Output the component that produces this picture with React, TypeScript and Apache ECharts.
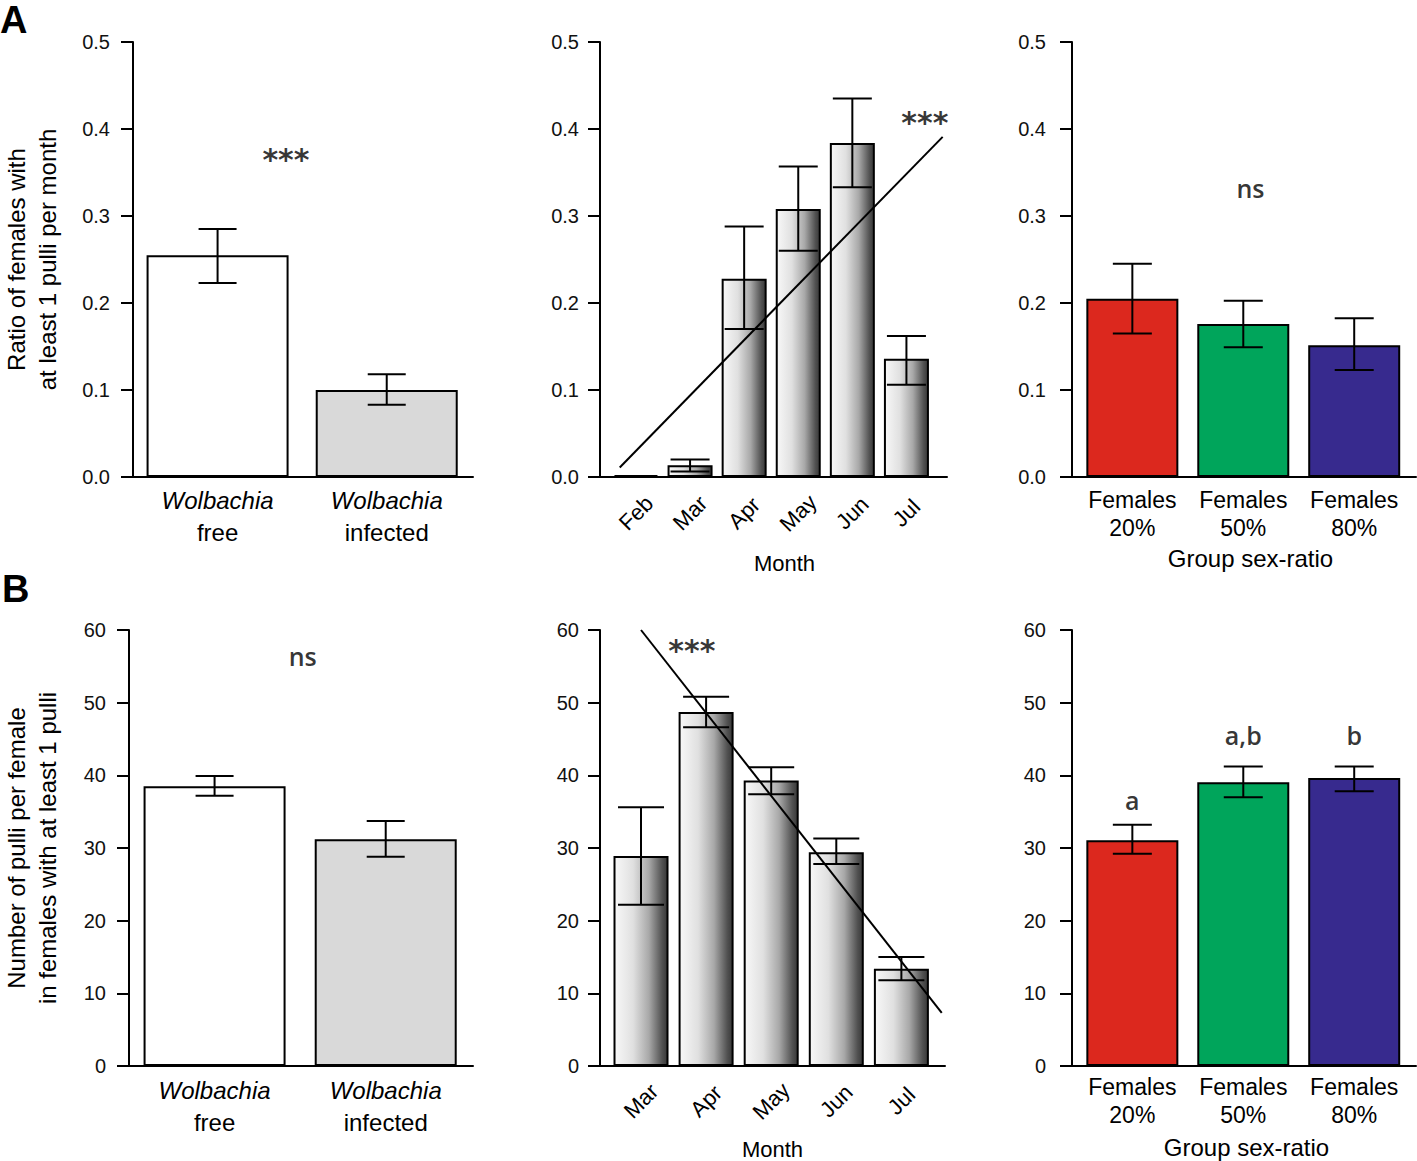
import React, { useEffect, useRef } from "react";
import * as echarts from "echarts";

// ---------- data ----------
const infectionGenus = "Wolbachia";
const infectionStatus = ["free", "infected"];
const monthsA = ["Feb", "Mar", "Apr", "May", "Jun", "Jul"];
const monthsB = ["Mar", "Apr", "May", "Jun", "Jul"];
const sexRatioGroups = ["20%", "50%", "80%"];

const ratioTicks = [0, 0.1, 0.2, 0.3, 0.4, 0.5];
const pulliTicks = [0, 10, 20, 30, 40, 50, 60];

const ratioByInfection = [0.255, 0.1];
const ratioByInfectionErr = [[0.223, 0.285], [0.083, 0.118]];
const ratioByMonth = [0, 0.0136, 0.228, 0.308, 0.384, 0.136];
const ratioByMonthErr = [null, [0.0064, 0.02], [0.17, 0.288], [0.26, 0.357], [0.333, 0.435], [0.106, 0.162]];
const ratioTrend = [[-0.3, 0.011], [5.67, 0.391]];
const ratioBySexRatio = [0.205, 0.176, 0.1515];
const ratioBySexRatioErr = [[0.165, 0.245], [0.149, 0.2026], [0.123, 0.1826]];

const pulliByInfection = [38.5, 31.2];
const pulliByInfectionErr = [[37.2, 39.9], [28.8, 33.7]];
const pulliByMonth = [28.9, 48.7, 39.3, 29.4, 13.4];
const pulliByMonthErr = [[22.2, 35.6], [46.6, 50.8], [37.4, 41.1], [27.8, 31.3], [11.8, 15.0]];
const pulliTrend = [[0, 60], [4.62, 7.3]];
const pulliBySexRatio = [31.06, 39.06, 39.65];
const pulliBySexRatioErr = [[29.2, 33.2], [37.0, 41.2], [37.8, 41.2]];

const notesA1 = [{ x: 0.404, y: 0.3655, text: "***" }];
const notesA2 = [{ x: 5.34, y: 0.407, text: "***" }];
const notesA3 = [{ x: 1.065, y: 0.332, text: "ns" }];
const notesB1 = [{ x: 0.515, y: 56.4, text: "ns" }];
const notesB2 = [{ x: 0.78, y: 57.2, text: "***" }];
const notesB3 = [
  { x: 0, y: 36.6, text: "a" },
  { x: 1, y: 45.5, text: "a,b" },
  { x: 2, y: 45.5, text: "b" },
];

// ---------- styles ----------
const FONT = "Liberation Sans";
const infectionColors = ["#ffffff", "#d9d9d9"];
const sexRatioColors = ["#dc281e", "#00a55b", "#372a8e"];
const monthGradient = {
  type: "linear",
  x: 0,
  y: 0,
  x2: 1,
  y2: 0,
  colorStops: [
    { offset: 0, color: "#f8f8f8" },
    { offset: 0.35, color: "#e0e0e0" },
    { offset: 0.65, color: "#a8a8a8" },
    { offset: 0.9, color: "#515151" },
    { offset: 1, color: "#383838" },
  ],
};

type Note = { x: number; y: number; text: string };
type Panel = {
  grid: { left: number; top: number; width: number; height: number };
  xMin: number;
  xMax: number;
  ticks: number[];
  digits: number;
  tickMargin: number;
  labelFormatter: (k: number) => string;
  labelStyle: any;
  values: number[];
  errs: (number[] | null)[];
  colors: any[];
  barWidth: number;
  cap: number;
  trend?: number[][];
  notes: Note[];
  xName?: string;
  xNameGap?: number;
  xNameStyle?: any;
  yName?: string;
  yNameGap?: number;
};

const infectionLabelStyle = (margin: number) => ({
  margin,
  color: "#000",
  rich: {
    i: { fontFamily: FONT, fontSize: 24, fontStyle: "italic", lineHeight: 32, color: "#000" },
    n: { fontFamily: FONT, fontSize: 24, lineHeight: 32, color: "#000" },
  },
});
const groupLabelStyle = (margin: number) => ({
  margin,
  fontFamily: FONT,
  fontSize: 23,
  lineHeight: 28,
  color: "#000",
});
const monthLabelStyle = (margin: number) => ({
  margin,
  rotate: 45,
  align: "center",
  verticalAlign: "middle",
  fontFamily: FONT,
  fontSize: 22,
  color: "#000",
});

const panels: Panel[] = [
  {
    grid: { left: 128, top: 42, width: 345, height: 435 },
    xMin: -0.5,
    xMax: 1.51,
    ticks: ratioTicks,
    digits: 1,
    tickMargin: 23,
    labelFormatter: (k) => `{i|${infectionGenus}}\n{n|${infectionStatus[k]}}`,
    labelStyle: infectionLabelStyle(7),
    values: ratioByInfection,
    errs: ratioByInfectionErr,
    colors: infectionColors,
    barWidth: 142,
    cap: 19,
    notes: notesA1,
    yName: "Ratio of females with\nat least 1 pulli per month",
    yNameGap: 70,
  },
  {
    grid: { left: 600, top: 42, width: 347, height: 435 },
    xMin: -0.665,
    xMax: 5.75,
    ticks: ratioTicks,
    digits: 1,
    tickMargin: 21,
    labelFormatter: (k) => monthsA[k],
    labelStyle: monthLabelStyle(36),
    values: ratioByMonth,
    errs: ratioByMonthErr,
    colors: monthsA.map(() => monthGradient),
    barWidth: 45,
    cap: 19.5,
    trend: ratioTrend,
    notes: notesA2,
    xName: "Month",
    xNameGap: 75,
    xNameStyle: { fontFamily: FONT, fontSize: 22, color: "#000", padding: [0, 0, 0, 22] },
  },
  {
    grid: { left: 1072, top: 42, width: 344, height: 435 },
    xMin: -0.544,
    xMax: 2.557,
    ticks: ratioTicks,
    digits: 1,
    tickMargin: 26,
    labelFormatter: (k) => `Females\n${sexRatioGroups[k]}`,
    labelStyle: groupLabelStyle(9),
    values: ratioBySexRatio,
    errs: ratioBySexRatioErr,
    colors: sexRatioColors,
    barWidth: 92,
    cap: 19.5,
    notes: notesA3,
    xName: "Group sex-ratio",
    xNameGap: 69,
    xNameStyle: { fontFamily: FONT, fontSize: 24, color: "#000", padding: [0, 0, 0, 13] },
  },
  {
    grid: { left: 128, top: 630, width: 345, height: 436 },
    xMin: -0.5,
    xMax: 1.51,
    ticks: pulliTicks,
    digits: 0,
    tickMargin: 23,
    labelFormatter: (k) => `{i|${infectionGenus}}\n{n|${infectionStatus[k]}}`,
    labelStyle: infectionLabelStyle(8),
    values: pulliByInfection,
    errs: pulliByInfectionErr,
    colors: infectionColors,
    barWidth: 142,
    cap: 19,
    notes: notesB1,
    yName: "Number of pulli per female\nin females with at least 1 pulli",
    yNameGap: 66,
  },
  {
    grid: { left: 600, top: 630, width: 345, height: 436 },
    xMin: -0.63,
    xMax: 4.67,
    ticks: pulliTicks,
    digits: 0,
    tickMargin: 21,
    labelFormatter: (k) => monthsB[k],
    labelStyle: monthLabelStyle(35),
    values: pulliByMonth,
    errs: pulliByMonthErr,
    colors: monthsB.map(() => monthGradient),
    barWidth: 55,
    cap: 23,
    trend: pulliTrend,
    notes: notesB2,
    xName: "Month",
    xNameGap: 72,
    xNameStyle: { fontFamily: FONT, fontSize: 22, color: "#000" },
  },
  {
    grid: { left: 1072, top: 630, width: 344, height: 436 },
    xMin: -0.544,
    xMax: 2.557,
    ticks: pulliTicks,
    digits: 0,
    tickMargin: 26,
    labelFormatter: (k) => `Females\n${sexRatioGroups[k]}`,
    labelStyle: groupLabelStyle(7),
    values: pulliBySexRatio,
    errs: pulliBySexRatioErr,
    colors: sexRatioColors,
    barWidth: 92,
    cap: 19.5,
    notes: notesB3,
    xName: "Group sex-ratio",
    xNameGap: 69,
    xNameStyle: { fontFamily: FONT, fontSize: 24, color: "#000", padding: [0, 0, 0, 5] },
  },
];

function noteLabel(text: string) {
  if (text === "***") {
    return { fontFamily: "DejaVu Sans", fontWeight: "bold", fontSize: 30, color: "#000" };
  }
  return { fontFamily: "Open Sans", fontWeight: 600, fontSize: 25, color: "#000" };
}

function buildOption() {
  const grid: any[] = [];
  const xAxis: any[] = [];
  const yAxis: any[] = [];
  const series: any[] = [];

  panels.forEach((p, i) => {
    grid.push({ ...p.grid, containLabel: false });
    const positions = p.values.map((_, k) => k);
    xAxis.push({
      gridIndex: i,
      type: "value",
      min: p.xMin,
      max: p.xMax,
      axisLine: { show: true, onZero: false, lineStyle: { color: "#000", width: 2 } },
      axisTick: { show: false },
      splitLine: { show: false },
      axisLabel: {
        show: true,
        customValues: positions,
        formatter: (v: number) => p.labelFormatter(Math.round(v)),
        ...p.labelStyle,
      },
      name: p.xName,
      nameLocation: "middle",
      nameGap: p.xNameGap,
      nameTextStyle: p.xNameStyle,
    });
    yAxis.push({
      gridIndex: i,
      type: "value",
      min: p.ticks[0],
      max: p.ticks[p.ticks.length - 1],
      interval: p.ticks[1] - p.ticks[0],
      axisLine: { show: true, onZero: false, lineStyle: { color: "#000", width: 2 } },
      axisTick: { show: true, length: 12, lineStyle: { color: "#000", width: 2 } },
      splitLine: { show: false },
      axisLabel: {
        margin: p.tickMargin,
        fontFamily: FONT,
        fontSize: 20,
        color: "#111",
        formatter: (v: number) => v.toFixed(p.digits),
      },
      name: p.yName,
      nameLocation: "middle",
      nameRotate: 90,
      nameGap: p.yNameGap,
      nameTextStyle: { fontFamily: FONT, fontSize: 24, lineHeight: 31, color: "#000" },
    });

    series.push({
      type: "bar",
      xAxisIndex: i,
      yAxisIndex: i,
      barWidth: p.barWidth,
      barMinHeight: 2,
      z: 2,
      itemStyle: { borderColor: "#000", borderWidth: 2 },
      data: p.values.map((v, k) => ({
        value: [k, v],
        itemStyle: v === 0 ? { color: "#000", borderWidth: 2 } : { color: p.colors[k] },
      })),
    });

    const errData = p.errs
      .map((e, k) => (e ? [k, e[0], e[1]] : null))
      .filter((d) => d !== null);
    const cap = p.cap;
    series.push({
      type: "custom",
      xAxisIndex: i,
      yAxisIndex: i,
      z: 5,
      silent: true,
      data: errData,
      renderItem: (_params: any, api: any) => {
        const x = api.value(0);
        const lo = api.coord([x, api.value(1)]);
        const hi = api.coord([x, api.value(2)]);
        const st = { stroke: "#000", lineWidth: 2 };
        return {
          type: "group",
          children: [
            { type: "line", shape: { x1: lo[0], y1: lo[1], x2: hi[0], y2: hi[1] }, style: st },
            { type: "line", shape: { x1: hi[0] - cap, y1: hi[1], x2: hi[0] + cap, y2: hi[1] }, style: st },
            { type: "line", shape: { x1: lo[0] - cap, y1: lo[1], x2: lo[0] + cap, y2: lo[1] }, style: st },
          ],
        };
      },
    });

    if (p.trend) {
      series.push({
        type: "line",
        xAxisIndex: i,
        yAxisIndex: i,
        z: 6,
        clip: false,
        symbol: "none",
        silent: true,
        lineStyle: { color: "#000", width: 2 },
        data: p.trend,
      });
    }

    p.notes.forEach((n) => {
      series.push({
        type: "scatter",
        xAxisIndex: i,
        yAxisIndex: i,
        z: 7,
        silent: true,
        symbolSize: 1,
        itemStyle: { color: "rgba(0,0,0,0)" },
        label: { show: true, position: "inside", formatter: "{b}", ...noteLabel(n.text) },
        data: [{ value: [n.x, n.y], name: n.text }],
      });
    });
  });

  return {
    animation: false,
    backgroundColor: "#ffffff",
    grid,
    xAxis,
    yAxis,
    series,
    graphic: [
      { type: "text", left: 0, top: 1, style: { text: "A", fontFamily: FONT, fontWeight: "bold", fontSize: 38, fill: "#000" } },
      { type: "text", left: 2, top: 570, style: { text: "B", fontFamily: FONT, fontWeight: "bold", fontSize: 38, fill: "#000" } },
    ],
  };
}

export default function App() {
  const ref = useRef<HTMLDivElement>(null);
  useEffect(() => {
    if (!ref.current) return;
    const chart = echarts.init(ref.current, null, { renderer: "svg" });
    chart.setOption(buildOption() as any);
    return () => chart.dispose();
  }, []);
  return (
    <div
      ref={ref}
      style={{ position: "absolute", left: 0, top: 0, width: 1417, height: 1161, background: "#fff" }}
    />
  );
}
